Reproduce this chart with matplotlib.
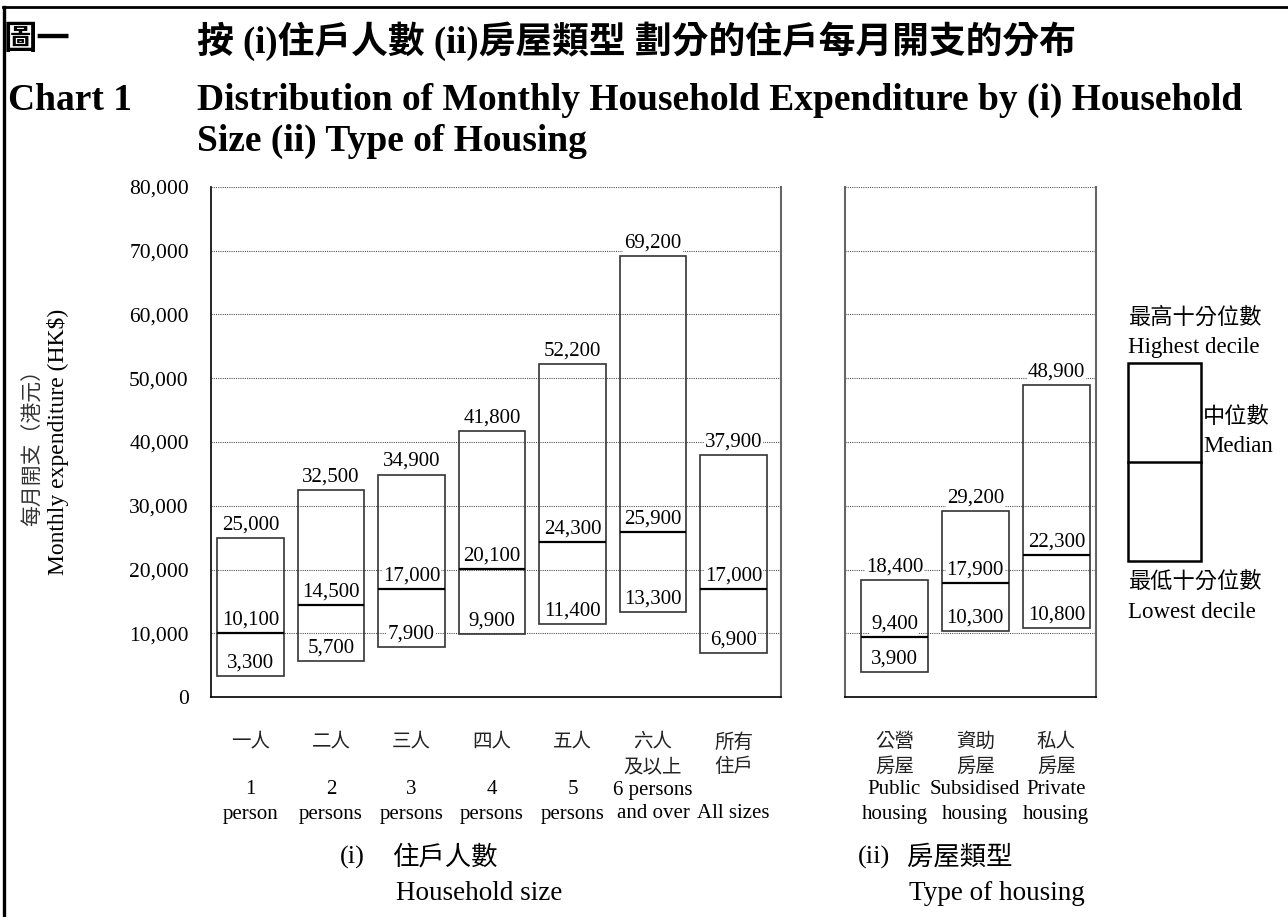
import matplotlib
matplotlib.use("Agg")
import matplotlib.pyplot as plt
import matplotlib.transforms as mtransforms
from matplotlib.patches import Rectangle
from matplotlib.lines import Line2D
from matplotlib.ticker import FuncFormatter

plt.rcParams["font.family"] = ["Liberation Serif", "Noto Sans CJK TC"]

# household size panel
size_cn = ["一人", "二人", "三人", "四人", "五人", "六人\n及以上", "所有\n住戶"]
size_en = ["1\nperson", "2\npersons", "3\npersons", "4\npersons", "5\npersons",
           "6 persons\nand over", "\nAll sizes"]
size_low = [3300, 5700, 7900, 9900, 11400, 13300, 6900]
size_med = [10100, 14500, 17000, 20100, 24300, 25900, 17000]
size_high = [25000, 32500, 34900, 41800, 52200, 69200, 37900]

# type of housing panel
house_cn = ["公營\n房屋", "資助\n房屋", "私人\n房屋"]
house_en = ["Public\nhousing", "Subsidised\nhousing", "Private\nhousing"]
house_low = [3900, 10300, 10800]
house_med = [9400, 17900, 22300]
house_high = [18400, 29200, 48900]

yticks = list(range(0, 80001, 10000))

W, H = 1288, 917
BOX_W = 0.83
EDGE = "#333333"
GRID = "#555555"


def fx(px):
    return px / W


def fy(py):
    return 1 - py / H


fig = plt.figure(figsize=(W / 100, H / 100), dpi=100)
ax1 = fig.add_axes([fx(211), fy(697), fx(781 - 211), (697 - 187) / H])
ax2 = fig.add_axes([fx(845), fy(697), fx(1096 - 845), (697 - 187) / H])


def draw_panel(ax, low, med, high, xlim):
    xs = list(range(len(low)))
    heights = [h - l for h, l in zip(high, low)]
    ax.bar(xs, heights, bottom=low, width=BOX_W, fill=False,
           edgecolor=EDGE, linewidth=1.2, zorder=2)
    ax.hlines(med, [x - BOX_W / 2 for x in xs], [x + BOX_W / 2 for x in xs],
              color="black", linewidth=1.6, zorder=2)
    for x, vals in zip(xs, zip(low, med, high)):
        for v in vals:
            ax.annotate(f"{v:,}", (x, v), xytext=(0, 2.5),
                        textcoords="offset points", ha="center", va="bottom",
                        fontsize=15, zorder=3,
                        bbox=dict(boxstyle="square,pad=0.05", fc="white",
                                  ec="none"))
    ax.set_xlim(*xlim)
    ax.set_ylim(0, 80000)
    ax.set_yticks(yticks)
    ax.set_xticks([])
    ax.grid(axis="y", linestyle=(0, (1, 1)), color=GRID, linewidth=0.8)
    ax.set_axisbelow(True)
    ax.tick_params(axis="y", length=0)
    ax.spines["top"].set_visible(False)
    ax.spines["bottom"].set_color("black")
    ax.spines["bottom"].set_linewidth(1.2)


draw_panel(ax1, size_low, size_med, size_high, (-0.49, 6.59))
ax1.yaxis.set_major_formatter(FuncFormatter(lambda v, _: f"{int(v):,}"))
ax1.tick_params(axis="y", labelsize=15.5, pad=16)
ax1.spines["left"].set_color("black")
ax1.spines["left"].set_linewidth(1.2)
ax1.spines["right"].set_color("#666666")
ax1.spines["right"].set_linewidth(1.5)

draw_panel(ax2, house_low, house_med, house_high, (-0.61, 2.49))
ax2.set_yticklabels([])
for side in ("left", "right"):
    ax2.spines[side].set_color("#666666")
    ax2.spines[side].set_linewidth(1.5)


def category_labels(ax, cn, en):
    tr = mtransforms.blended_transform_factory(ax.transData, fig.transFigure)
    rows_cn = (742, 767)
    rows_en = (790, 814)
    for x, (c, e) in enumerate(zip(cn, en)):
        for line, row in zip(c.split("\n"), rows_cn):
            ax.text(x, fy(row), line, transform=tr, ha="center", va="center",
                    fontsize=14, color="#222222")
        for line, row in zip(e.split("\n"), rows_en):
            ax.text(x, fy(row), line, transform=tr, ha="center", va="center",
                    fontsize=15)


category_labels(ax1, size_cn, size_en)
category_labels(ax2, house_cn, house_en)

# panel captions
fig.text(fx(340), fy(857), "(i)", fontsize=19, va="center")
fig.text(fx(392), fy(857), "住戶人數", fontsize=19, va="center")
fig.text(fx(396), fy(893), "Household size", fontsize=19.5, va="center")
fig.text(fx(858), fy(857), "(ii)", fontsize=19, va="center")
fig.text(fx(907), fy(857), "房屋類型", fontsize=19, va="center")
fig.text(fx(909), fy(893), "Type of housing", fontsize=19.5, va="center")

# y axis titles
fig.text(fx(34), fy(442), "每月開支（港元）", rotation=90, fontsize=15,
         ha="center", va="center", color="#333333")
fig.text(fx(58), fy(442), "Monthly expenditure (HK$)", rotation=90,
         fontsize=17, ha="center", va="center")

# title block
fig.text(fx(4), fy(41), "圖一", fontsize=24, fontweight="bold", va="center")
fig.text(fx(197), fy(41), "按 (i)住戶人數 (ii)房屋類型 劃分的住戶每月開支的分布",
         fontsize=26.5, fontweight="bold", va="center")
fig.text(fx(8), fy(100), "Chart 1", fontsize=27, fontweight="bold",
         va="center")
fig.text(fx(197), fy(100),
         "Distribution of Monthly Household Expenditure by (i) Household",
         fontsize=27, fontweight="bold", va="center")
fig.text(fx(197), fy(141), "Size (ii) Type of Housing", fontsize=27,
         fontweight="bold", va="center")

# key box
fig.add_artist(Rectangle((fx(1128), fy(561)), fx(1201 - 1128), (561 - 363) / H,
                         transform=fig.transFigure, fill=False,
                         edgecolor="black", linewidth=1.8))
fig.add_artist(Line2D([fx(1128), fx(1201)], [fy(462), fy(462)],
                      transform=fig.transFigure, color="black", linewidth=1.8))
fig.text(fx(1128), fy(318), "最高十分位數", fontsize=16, va="center")
fig.text(fx(1128), fy(348), "Highest decile", fontsize=16.5, va="center")
fig.text(fx(1203), fy(417), "中位數", fontsize=16, va="center")
fig.text(fx(1203), fy(447), "Median", fontsize=16.5, va="center")
fig.text(fx(1128), fy(582), "最低十分位數", fontsize=16, va="center")
fig.text(fx(1128), fy(612), "Lowest decile", fontsize=16.5, va="center")

# page frame on the top and left
fig.add_artist(Line2D([fx(4), fx(4)], [0, fy(7)], transform=fig.transFigure,
                      color="black", linewidth=2.4))
fig.add_artist(Line2D([fx(3), 1], [fy(7), fy(7)], transform=fig.transFigure,
                      color="black", linewidth=2.0))

fig.savefig("out.png", dpi=100)
